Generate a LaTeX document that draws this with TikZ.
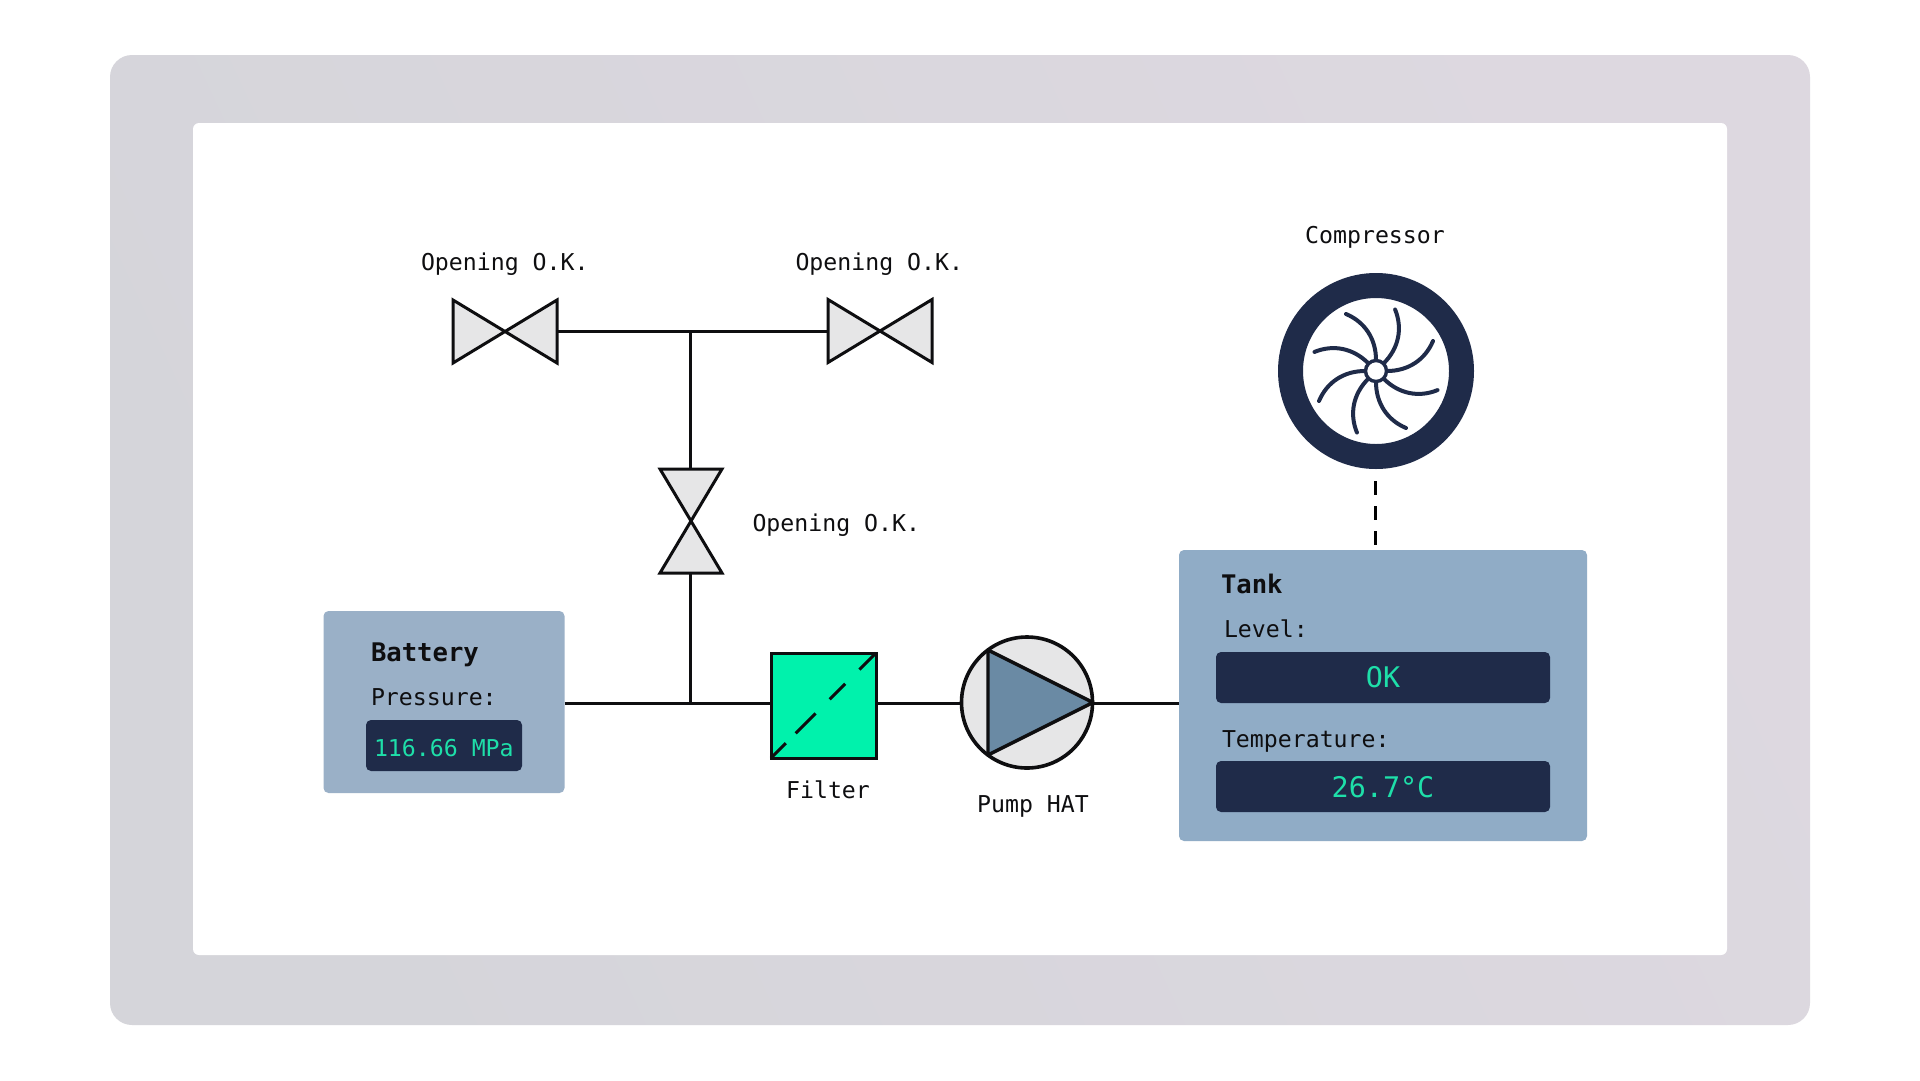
\documentclass[tikz,border=0pt]{standalone}
\usepackage{fontspec}
\setmainfont{DejaVu Sans Mono}
\usetikzlibrary{calc}
\definecolor{frameA}{HTML}{D5D5DA}
\definecolor{frameB}{HTML}{DDD8E0}
\definecolor{inkline}{HTML}{0E0E10}
\definecolor{partgray}{HTML}{E6E6E7}
\definecolor{filtergreen}{HTML}{00F2AC}
\definecolor{pumpblue}{HTML}{6A8AA4}
\definecolor{tankblue}{HTML}{90ACC6}
\definecolor{battblue}{HTML}{9AB0C7}
\definecolor{navy}{HTML}{1F2B49}
\definecolor{readout}{HTML}{1EDFA9}
\tikzset{
  x=1pt,y=-1pt,
  txt/.style={font=\fontsize{23.2}{26}\selectfont,text=inkline,inner sep=0pt,outer sep=0pt,anchor=base west},
  txtc/.style={txt,anchor=base},
  headtxt/.style={txt,font=\fontsize{25.6}{28}\selectfont\bfseries},
  panel/.style={rectangle,rounded corners=5pt,inner sep=0pt,outer sep=0pt},
  valvebox/.style={rectangle,inner sep=0pt,outer sep=0pt},
  pipe/.style={draw=inkline,line width=3pt},
  bowtie/.style={draw=inkline,fill=partgray,line width=3pt,line join=miter},
  bigval/.style={font=\fontsize{28.4}{30}\selectfont,text=readout,inner sep=0pt,outer sep=0pt,anchor=base},
}
\begin{document}
\begin{tikzpicture}
\useasboundingbox (0,0) rectangle (1920,1080);
\fill[white] (0,0) rectangle (1920,1080);
% frame
\shade[left color=frameA,right color=frameB,shading angle=115,rounded corners=22pt] (110,55) rectangle (1810,1025);
\fill[white,rounded corners=6pt] (193,123) rectangle (1727,955);
% nodes
\node[panel,fill=battblue,minimum width=241pt,minimum height=182pt] (battery) at (444,702) {};
\node[panel,fill=tankblue,minimum width=408pt,minimum height=291pt] (tank) at (1383,695.5) {};
\node[valvebox,minimum width=104pt,minimum height=63pt] (v1) at (505,331.5) {};
\node[valvebox,minimum width=104pt,minimum height=63pt] (v2) at (880,331) {};
\node[valvebox,minimum width=62pt,minimum height=104pt] (v3) at (691,521) {};
\node[rectangle,draw=inkline,fill=filtergreen,line width=3pt,inner sep=0pt,outer sep=0pt,minimum width=105pt,minimum height=105pt] (filter) at (823.5,705.5) {};
\node[circle,draw=inkline,fill=partgray,line width=3.6pt,inner sep=0pt,outer sep=0pt,minimum size=131pt] (pump) at (1027,702.5) {};
\coordinate (tee) at (690,331);
\coordinate (junction) at (690,703);
\coordinate (dashtop) at (1375.5,481);
% pipes
\draw[pipe] (v1.east |- tee) -- (v2.west |- tee);
\draw[pipe] (tee) -- (tee |- v3.north);
\draw[pipe] (tee |- v3.south) -- (junction);
\draw[pipe] (battery.east |- junction) -- (junction -| filter.west);
\draw[pipe] (junction -| filter.east) -- (junction -| pump.west);
\draw[pipe] (junction -| pump.east) -- (junction -| tank.west);
\draw[draw=black,line width=3pt,dash pattern=on 14pt off 11pt] (dashtop) -- (dashtop |- tank.north);
% valves
\draw[bowtie] (v1.north west) -- (v1.south east) -- (v1.north east) -- (v1.south west) -- cycle;
\draw[bowtie] (v2.north west) -- (v2.south east) -- (v2.north east) -- (v2.south west) -- cycle;
\draw[bowtie] (v3.north west) -- (v3.south east) -- (v3.south west) -- (v3.north east) -- cycle;
% filter diagonal
\draw[draw=inkline,line width=3pt,dash pattern=on 21pt off 14pt on 28pt off 20pt on 22pt off 20pt on 26pt off 0pt] (filter.south west) -- (filter.north east);
% pump triangle
\draw[draw=inkline,fill=pumpblue,line width=3.4pt,line join=round] (988,650) -- (1093,702.5) -- (988,755) -- cycle;
% compressor
\coordinate (fan) at (1376,371);
\fill[navy,even odd rule] (fan) circle[radius=98pt] (fan) circle[radius=73pt];
\foreach \a in {0,45,...,315}{
  \draw[navy,line width=4pt,line cap=round,rotate around={\a:(fan)}]
    ($(fan)+(0,-11)$) .. controls ($(fan)+(0,-32)$) and ($(fan)+(-11,-49)$) .. ($(fan)+(-30,-57)$);
}
\draw[navy,line width=3.4pt,fill=white] (fan) circle[radius=10.5pt];
% displays
\node[panel,fill=navy,minimum width=156pt,minimum height=51pt] (dispP) at (444,745.5) {};
\node[panel,fill=navy,minimum width=334pt,minimum height=51pt] (dispL) at (1383,677.5) {};
\node[panel,fill=navy,minimum width=334pt,minimum height=51pt] (dispT) at (1383,786.5) {};
% labels
\node[txt] (lv1) at (421,270.5) {Opening O.K.};
\node[txt] (lv2) at (795.5,270.5) {Opening O.K.};
\node[txt] (lv3) at (752.5,531) {Opening O.K.};
\node[txtc] (lcomp) at (1375,243.5) {Compressor};
\node[txtc] (lfilter) at (828,798) {Filter};
\node[txtc] (lpump) at (1033,812.5) {Pump HAT};
\node[headtxt] (lbatt) at (371,661) {Battery};
\node[txt] (lpress) at (371,705.5) {Pressure:};
\node[txt,text=readout] (vpress) at (374,756.5) {116.66 MPa};
\node[headtxt] (ltank) at (1221,593) {Tank};
\node[txt] (llevel) at (1224,637.5) {Level:};
\node[txt] (ltemp) at (1222,747.5) {Temperature:};
\node[bigval] (vlevel) at (1383,687) {OK};
\node[bigval] (vtemp) at (1383,797) {26.7°C};
\end{tikzpicture}
\end{document}
